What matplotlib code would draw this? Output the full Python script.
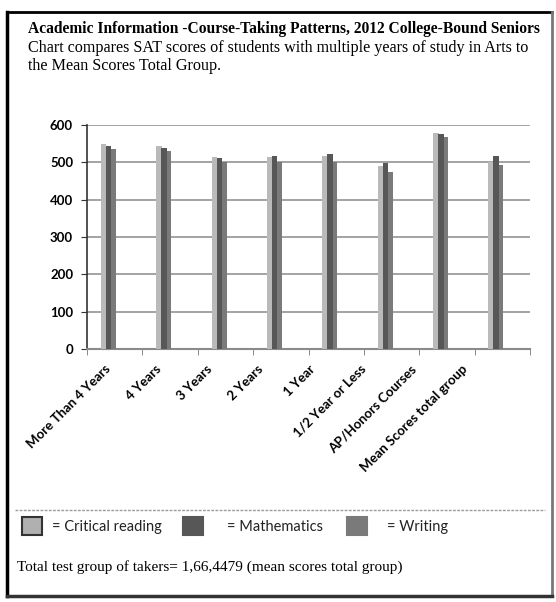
import matplotlib
matplotlib.use("Agg")
import matplotlib.pyplot as plt
import numpy as np
from matplotlib.patches import Rectangle
from matplotlib.lines import Line2D

categories = ["More Than 4 Years", "4 Years", "3 Years", "2 Years", "1 Year",
              "1/2 Year or Less", "AP/Honors Courses", "Mean Scores total group"]
critical_reading = [550, 544, 515, 515, 518, 491, 579, 502]
mathematics      = [543, 538, 511, 517, 522, 497, 575, 517]
writing          = [536, 530, 502, 500, 502, 473, 569, 492]
yticks = [0, 100, 200, 300, 400, 500, 600]

title_lines = ["Academic Information -Course-Taking Patterns, 2012 College-Bound Seniors",
               "Chart compares SAT scores of students with multiple years of study in Arts to",
               "the Mean Scores Total Group."]
legend_labels = ["= Critical reading", "= Mathematics", "= Writing"]
footer = "Total test group of takers= 1,66,4479 (mean scores total group)"

W, H = 556, 602
fig = plt.figure(figsize=(W/100, H/100), dpi=100)

def fx(px): return px / W
def fy(py): return 1 - py / H

ax = fig.add_axes([fx(87), fy(349), fx(530) - fx(87), fy(125) - fy(349)])
x = np.arange(len(categories))
col_cr, col_m, col_w = "#bababa", "#575757", "#7a7a7a"
bw = 0.1
ax.bar(x - 0.20, critical_reading, bw, color=col_cr, zorder=3)
ax.bar(x - 0.11, mathematics, bw, color=col_m, zorder=4)
ax.bar(x - 0.03, writing, bw, color=col_w, zorder=3)

ax.set_xlim(-0.5, len(categories) - 0.5)
ax.set_ylim(0, 600)
ax.set_yticks(yticks)
ax.set_yticklabels([str(v) for v in yticks], fontfamily="Lato", fontweight="bold", fontsize=9.5)
ax.yaxis.grid(True, color="#8a8a8a", lw=1.1, zorder=0)
ax.set_axisbelow(True)
# label anchors are slightly compressed relative to the categories (3-D perspective)
ax.set_xticks(x * 0.922 - 0.19)
ax.set_xticklabels(categories, rotation=45, ha="right", rotation_mode="anchor",
                   fontfamily="Lato", fontweight="bold", fontsize=9.5)
ax.tick_params(axis="x", length=0, pad=10)
ax.set_xticks(np.arange(len(categories) + 1) - 0.5, minor=True)
ax.tick_params(axis="x", which="minor", length=4, color="#777777", direction="out")
ax.tick_params(axis="y", length=4, color="#333333", pad=6)
for s in ["top", "right"]:
    ax.spines[s].set_visible(False)
ax.spines["left"].set_color("#333333")
ax.spines["left"].set_linewidth(1.2)
ax.spines["bottom"].set_color("#8a8a8a")
ax.spines["bottom"].set_linewidth(1.5)

# titles
fig.text(fx(28), fy(29), title_lines[0], fontfamily="Liberation Serif", fontweight="bold",
         fontsize=11.2, va="center", ha="left")
fig.text(fx(28), fy(48), title_lines[1], fontfamily="Liberation Serif",
         fontsize=11.6, va="center", ha="left")
fig.text(fx(28), fy(66), title_lines[2], fontfamily="Liberation Serif",
         fontsize=11.6, va="center", ha="left")

# legend separator
fig.add_artist(Line2D([fx(15), fx(545)], [fy(510), fy(510)], color="#9a9a9a", lw=1,
                      linestyle=(0, (2, 1))))
sq = [(22, "#b0b0b0", "#333333"), (183, col_m, col_m), (347, col_w, col_w)]
txt_x = [52, 227, 387]
for (sx, fc, ec), tx, lab in zip(sq, txt_x, legend_labels):
    fig.add_artist(Rectangle((fx(sx), fy(535)), fx(20), fy(517) - fy(535),
                             facecolor=fc, edgecolor=ec, lw=1.5, transform=fig.transFigure))
    fig.text(fx(tx), fy(527), lab, fontfamily="Lato", fontsize=10.5, va="center", ha="left",
             color="#222222")

fig.text(fx(17), fy(567), footer, fontfamily="Liberation Serif", fontsize=11,
         va="center", ha="left")

# outer frame
fig.add_artist(Line2D([fx(7), fx(7)], [fy(12), fy(596)], color="black", lw=2.5))
fig.add_artist(Line2D([fx(7), fx(552)], [fy(12), fy(12)], color="black", lw=2))
fig.add_artist(Line2D([fx(552), fx(552)], [fy(12), fy(596)], color="#777777", lw=2))
fig.add_artist(Line2D([fx(7), fx(552)], [fy(596), fy(596)], color="#333333", lw=2.5))

fig.savefig("out.png", dpi=100)
